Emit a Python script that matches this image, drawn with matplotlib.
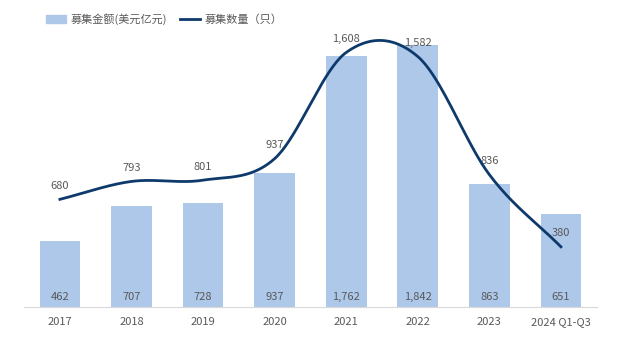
import matplotlib.pyplot as plt
import numpy as np
from matplotlib.lines import Line2D
from matplotlib.patches import Patch

plt.rcParams['font.family'] = ['Noto Sans CJK SC', 'DejaVu Sans']

categories = ["2017", "2018", "2019", "2020", "2021", "2022", "2023", "2024 Q1-Q3"]
amount = [462, 707, 728, 937, 1762, 1842, 863, 651]      # 募集金额(美元亿元)
count = [680, 793, 801, 937, 1608, 1582, 836, 380]       # 募集数量（只）

BAR_C = "#AEC8EA"
LINE_C = "#0E3A6B"
TXT_C = "#595959"


def smooth(x, y, n=40):
    """Catmull-Rom style smoothing, roughly like Excel's smoothed line"""
    x = np.asarray(x, float)
    y = np.asarray(y, float)
    px = np.concatenate([[2 * x[0] - x[1]], x, [2 * x[-1] - x[-2]]])
    py = np.concatenate([[2 * y[0] - y[1]], y, [2 * y[-1] - y[-2]]])
    xs, ys = [], []
    for i in range(1, len(px) - 2):
        t = np.linspace(0, 1, n)
        for p, out in ((px, xs), (py, ys)):
            p0, p1, p2, p3 = p[i - 1], p[i], p[i + 1], p[i + 2]
            out.extend(0.5 * (2 * p1 + (-p0 + p2) * t
                              + (2 * p0 - 5 * p1 + 4 * p2 - p3) * t ** 2
                              + (-p0 + 3 * p1 - 3 * p2 + p3) * t ** 3))
    return np.array(xs), np.array(ys)


fig = plt.figure(figsize=(6.19, 3.5), dpi=100)
ax = fig.add_axes([0.039, 0.123, 0.925, 0.814])
x = np.arange(len(categories))

ax.bar(x, amount, width=0.57, color=BAR_C, zorder=2)
for xi, v in zip(x, amount):
    ax.text(xi, 72, f"{v:,}", ha="center", va="center", fontsize=8, color=TXT_C, zorder=5)

ax.set_xlim(-0.5, len(categories) - 0.5)
ax.set_ylim(0, 2000)
ax.set_xticks(x)
ax.set_xticklabels(categories, fontsize=8, color=TXT_C)
ax.tick_params(axis="x", length=0, pad=7)
ax.set_yticks([])
for s in ["top", "left", "right"]:
    ax.spines[s].set_visible(False)
ax.spines["bottom"].set_color("#D9D9D9")

ax2 = ax.twinx()
ax2.set_ylim(0, 1800)
sx, sy = smooth(x, count)
ax2.plot(sx, sy, color=LINE_C, lw=2, zorder=4)
for xi, v in zip(x, count):
    ax2.text(xi, v + 85, f"{v:,}", ha="center", va="center", fontsize=8, color=TXT_C)
ax2.set_yticks([])
for s in ["top", "left", "right", "bottom"]:
    ax2.spines[s].set_visible(False)

handles = [Patch(color=BAR_C), Line2D([], [], color=LINE_C, lw=2)]
fig.legend(handles, ["募集金额(美元亿元)", "募集数量（只）"], loc="center left",
           bbox_to_anchor=(0.058, 0.945), ncol=2, frameon=False, fontsize=8,
           labelcolor=TXT_C, handlelength=1.8, handletextpad=0.4, columnspacing=1.2)

fig.savefig("out.png", dpi=100)
